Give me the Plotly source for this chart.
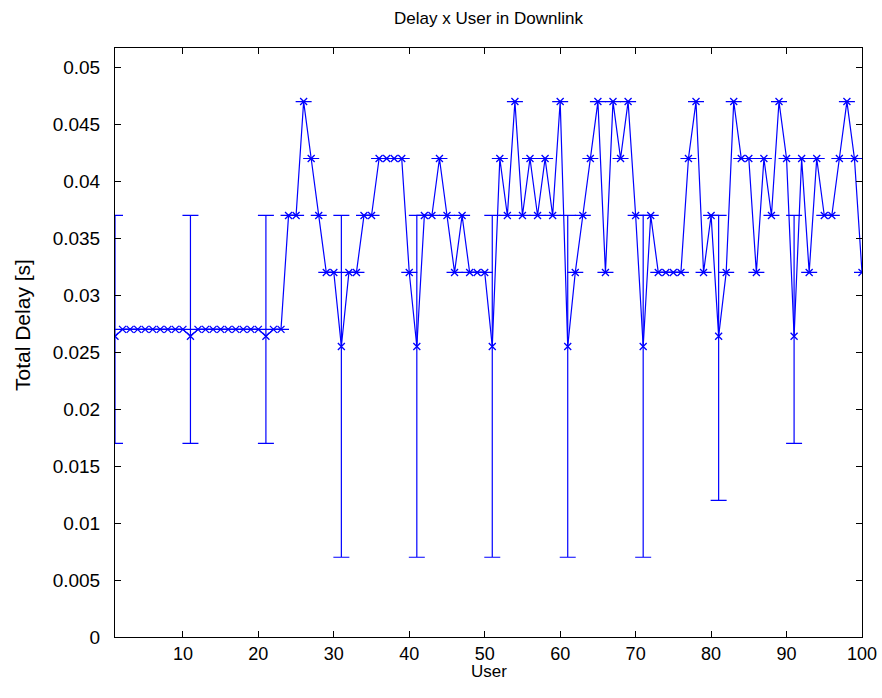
import plotly.graph_objects as go

users = list(range(1, 101))
delay = [
    0.0264, 0.027, 0.027, 0.027, 0.027, 0.027, 0.027, 0.027, 0.027, 0.027,
    0.0264, 0.027, 0.027, 0.027, 0.027, 0.027, 0.027, 0.027, 0.027, 0.027,
    0.0264, 0.027, 0.027, 0.037, 0.037, 0.047, 0.042, 0.037, 0.032, 0.032,
    0.0255, 0.032, 0.032, 0.037, 0.037, 0.042, 0.042, 0.042, 0.042, 0.032,
    0.0255, 0.037, 0.037, 0.042, 0.037, 0.032, 0.037, 0.032, 0.032, 0.032,
    0.0255, 0.042, 0.037, 0.047, 0.037, 0.042, 0.037, 0.042, 0.037, 0.047,
    0.0255, 0.032, 0.037, 0.042, 0.047, 0.032, 0.047, 0.042, 0.047, 0.037,
    0.0255, 0.037, 0.032, 0.032, 0.032, 0.032, 0.042, 0.047, 0.032, 0.037,
    0.0264, 0.032, 0.047, 0.042, 0.042, 0.032, 0.042, 0.037, 0.047, 0.042,
    0.0264, 0.042, 0.032, 0.042, 0.037, 0.037, 0.042, 0.047, 0.042, 0.032,
]

# users that have a non-zero spread, with the low/high ends of their bars
err_users = [1, 11, 21, 31, 41, 51, 61, 71, 81, 91]
err_low = [0.017, 0.017, 0.017, 0.007, 0.007, 0.007, 0.007, 0.007, 0.012, 0.017]
err_high = [0.037, 0.037, 0.037, 0.037, 0.037, 0.037, 0.037, 0.037, 0.037, 0.037]

x_ticks = [10, 20, 30, 40, 50, 60, 70, 80, 90, 100]
y_ticks = [0, 0.005, 0.01, 0.015, 0.02, 0.025, 0.03, 0.035, 0.04, 0.045, 0.05]
y_tick_labels = ["0", "0.005", "0.01", "0.015", "0.02", "0.025", "0.03",
                 "0.035", "0.04", "0.045", "0.05"]

err_plus = [0.0] * len(users)
err_minus = [0.0] * len(users)
for u, lo, hi in zip(err_users, err_low, err_high):
    i = users.index(u)
    err_plus[i] = hi - delay[i]
    err_minus[i] = delay[i] - lo

BLUE = "#0000ff"
FONT = "Liberation Sans"
W, H = 882, 698
L, R, T, B = 115, 20, 48, 61
PW, PH = W - L - R, H - T - B

fig = go.Figure()
fig.add_trace(go.Scatter(
    x=users, y=delay, mode="lines+markers",
    line=dict(color=BLUE, width=1.2),
    marker=dict(symbol="x-thin", size=7, color=BLUE, line=dict(width=1.3, color=BLUE)),
    error_y=dict(type="data", symmetric=False, array=err_plus, arrayminus=err_minus,
                 color=BLUE, thickness=1.2, width=8),
    showlegend=False,
))

fig.update_layout(
    width=W, height=H,
    margin=dict(l=L, r=R, t=T, b=B),
    paper_bgcolor="white", plot_bgcolor="white",
    title=dict(text="Delay x User in Downlink", x=0.5, xref="paper", xanchor="center",
               y=1 - 18 / H, yanchor="middle",
               font=dict(family=FONT, size=17, color="black")),
    font=dict(family=FONT, size=19, color="black"),
    annotations=[
        dict(text="User", xref="paper", yref="paper", x=0.5, y=-(671 - (H - B)) / PH,
             xanchor="center", yanchor="middle", showarrow=False,
             font=dict(family=FONT, size=17, color="black")),
        dict(text="Total Delay [s]", xref="paper", yref="paper",
             x=(22 - L) / PW, y=((H - B) - 325) / PH, textangle=-90,
             xanchor="center", yanchor="middle", showarrow=False,
             font=dict(family=FONT, size=21, color="black")),
    ],
)
fig.update_xaxes(
    range=[1, 100], tickvals=x_ticks, ticks="inside", ticklen=6, tickcolor="black",
    showline=True, linecolor="black", linewidth=1, mirror="ticks",
    showgrid=False, zeroline=False, automargin=False,
    tickfont=dict(family=FONT, size=18),
)
fig.update_yaxes(
    range=[0, 0.0517], tickvals=y_ticks, ticktext=y_tick_labels, ticks="inside",
    ticklen=6, tickcolor="black",
    showline=True, linecolor="black", linewidth=1, mirror="ticks",
    showgrid=False, zeroline=False, automargin=False,
    tickfont=dict(family=FONT, size=19), ticklabelstandoff=10,
)

fig.write_html("out.html")
